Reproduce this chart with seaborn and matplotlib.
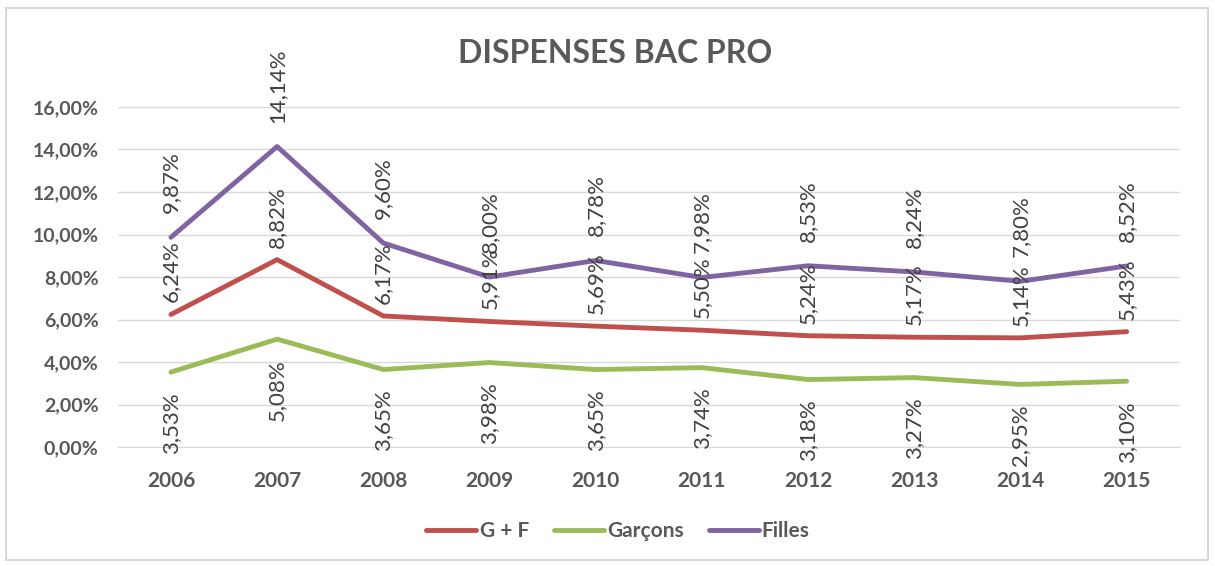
import numpy as np
import pandas as pd
import matplotlib
matplotlib.use('Agg')
import matplotlib.pyplot as plt
from matplotlib.patches import Rectangle
import seaborn as sns

# data (percent)
years = ['2006', '2007', '2008', '2009', '2010', '2011', '2012', '2013', '2014', '2015']
gf = [6.24, 8.82, 6.17, 5.91, 5.69, 5.50, 5.24, 5.17, 5.14, 5.43]
garcons = [3.53, 5.08, 3.65, 3.98, 3.65, 3.74, 3.18, 3.27, 2.95, 3.10]
filles = [9.87, 14.14, 9.60, 8.00, 8.78, 7.98, 8.53, 8.24, 7.80, 8.52]
series_names = ['G + F', 'Garçons', 'Filles']
colors = ['#C0504D', '#9BBB59', '#8064A2']
text_grey = '#595959'

sns.set_style('white')
plt.rcParams['font.family'] = ['Lato', 'DejaVu Sans']

df = pd.DataFrame({
    'year': years * 3,
    'idx': list(range(len(years))) * 3,
    'value': gf + garcons + filles,
    'serie': [series_names[0]] * len(years) + [series_names[1]] * len(years) + [series_names[2]] * len(years),
})

fig = plt.figure(figsize=(12.15, 5.66), dpi=100)
ax = fig.add_axes([0.097, 0.210, 0.874, 0.601])

sns.lineplot(data=df, x='idx', y='value', hue='serie', hue_order=series_names,
             palette=colors, linewidth=3.5, ax=ax, legend=True)

# data labels, rotated like the Excel chart
for vals, off, va in [(gf, 12, 'bottom'), (filles, 24, 'bottom'), (garcons, -20, 'top')]:
    for i, v in enumerate(vals):
        txt = f'{v:.2f}%'.replace('.', ',')
        ax.annotate(txt, (i, v), xytext=(0, off), textcoords='offset pixels',
                    rotation=90, ha='center', va=va, fontsize=16, color='#404040')

ax.set_xlim(-0.5, len(years) - 0.5)
ax.set_ylim(0, 16)
ax.set_xticks(range(len(years)))
ax.set_xticklabels(years)
yt = np.arange(0, 17, 2)
ax.set_yticks(yt)
ax.set_yticklabels([f'{t:.2f}%'.replace('.', ',') for t in yt])
ax.tick_params(axis='both', length=0, labelcolor=text_grey)
ax.tick_params(axis='y', pad=14, labelsize=14)
ax.tick_params(axis='x', pad=17, labelsize=15)
for lab in ax.get_xticklabels() + ax.get_yticklabels():
    lab.set_fontweight('bold')
ax.grid(axis='y', color='#D9D9D9', linewidth=1)
ax.set_axisbelow(True)
for s in ['top', 'right', 'left']:
    ax.spines[s].set_visible(False)
ax.spines['bottom'].set_color('#D9D9D9')
ax.set_xlabel('')
ax.set_ylabel('')

fig.text(0.506, 0.905, 'DISPENSES BAC PRO', ha='center', va='center',
         fontsize=23, fontweight='bold', color=text_grey)

leg = ax.legend(loc='center', bbox_to_anchor=(0.471, -0.247), ncol=3, frameon=False,
                fontsize=15, handlelength=2.4, columnspacing=1.2, handletextpad=0.15)
for t in leg.get_texts():
    t.set_color(text_grey)
    t.set_fontweight('bold')

# light frame around the chart area
fig.patches.append(Rectangle((6 / 1215, 1 - 560 / 566), 1202 / 1215, 552 / 566,
                             transform=fig.transFigure, fill=False,
                             edgecolor='#D9D9D9', linewidth=1.5))

fig.savefig('out.png', dpi=100)
